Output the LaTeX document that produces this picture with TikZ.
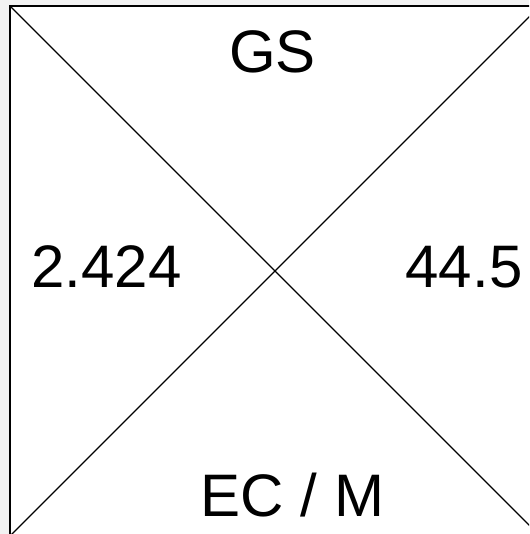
\documentclass[tikz,border=0pt]{standalone}
\usepackage{fontspec}
\setmainfont{Liberation Sans}
\usepackage{tikz}
\usetikzlibrary{positioning}
\definecolor{SqPaper}{HTML}{F2F2F2}

\begin{document}
\begin{tikzpicture}[
    x=1pt,y=-1pt,
    quadlabel/.style={inner sep=0pt,font=\fontsize{60}{72}\selectfont},
    edge/.style={line width=1.4pt,draw=black}
  ]
    \useasboundingbox (0,0) rectangle (529,534);
    \clip (0,0) rectangle (529,534);
    \fill[SqPaper] (0,0) rectangle (529,534);
    % the square and its corners
    \coordinate (nw) at (10,6);
    \coordinate (ne) at (540,6);
    \coordinate (sw) at (10,536);
    \coordinate (se) at (540,536);
    \filldraw[edge,fill=white] (nw) rectangle (se);
    \draw[edge] (nw) -- (se);
    \draw[edge] (ne) -- (sw);
    \node[quadlabel] (top) at (272.5,51.5) {GS};
    \node[quadlabel] (left) at (106.5,267) {2.424};
    \node[quadlabel] (right) at (464,267.5) {44.5};
    \node[quadlabel] (bottom) at (292.5,495) {EC / M};
  \end{tikzpicture}
\end{document}
